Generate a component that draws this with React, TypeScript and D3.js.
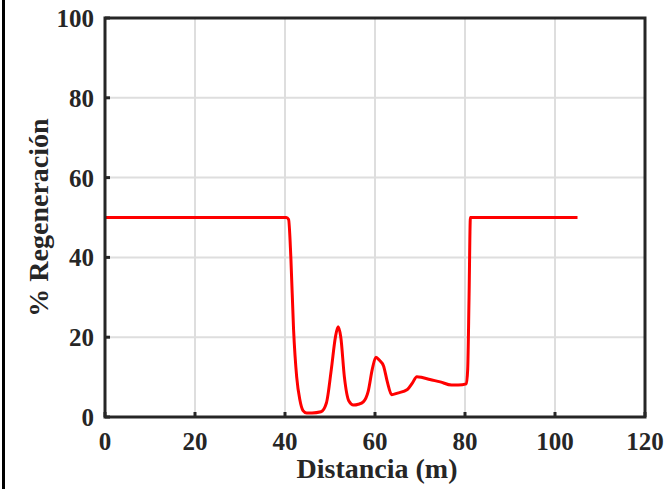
import React from "react";
import * as d3 from "d3";

const distance = [0, 10, 20, 30, 40.3, 40.8, 41.3, 41.9, 42.6, 43.3, 44.0, 44.8, 46.0, 48.0, 49.2, 50.3, 51.2, 51.8, 52.4, 53.2, 54.2, 55.2, 56.3, 57.4, 58.5, 59.4, 60.2, 61.0, 61.9, 62.7, 63.7, 65.0, 67.2, 68.3, 69.3, 70.5, 72.2, 74.5, 77.0, 78.5, 80.3, 80.6, 80.9, 81.2, 85, 95, 105];
const regeneration = [50, 50, 50, 50, 50, 49.5, 40, 22, 10, 4.3, 1.6, 1.0, 1.0, 1.3, 3.5, 12, 20, 22.6, 20, 10, 4.0, 3.0, 3.2, 3.8, 6.5, 12, 15.0, 14.2, 12.8, 9, 5.6, 6.0, 6.9, 8.5, 10.1, 9.9, 9.4, 8.8, 8.0, 8.0, 8.3, 12, 30, 50, 50, 50, 50];
const xTicks = [0, 20, 40, 60, 80, 100, 120];
const yTicks = [0, 20, 40, 60, 80, 100];

export default function App() {
  const W = 669, H = 489;
  const left = 105, right = 645, top = 18, bottom = 417;
  const x = d3.scaleLinear().domain([0, 120]).range([left, right]);
  const y = d3.scaleLinear().domain([0, 100]).range([bottom, top]);
  const pts = distance.map((d, i) => [d, regeneration[i]] as [number, number]);
  const line = d3.line<[number, number]>().x(d => x(d[0])).y(d => y(d[1])).curve(d3.curveMonotoneX);
  const font = "'Liberation Serif', 'Times New Roman', serif";
  return (
    <svg width={W} height={H} style={{ position: "absolute", left: 0, top: 0 }}>
      <rect x={0} y={0} width={W} height={H} fill="#fff" />
      <rect x={2} y={0} width={3} height={H} fill="#000" />
      {xTicks.slice(1, -1).map(t => (
        <line key={"gx" + t} x1={x(t)} x2={x(t)} y1={top} y2={bottom} stroke="#dedede" strokeWidth={2} />
      ))}
      {yTicks.slice(1, -1).map(t => (
        <line key={"gy" + t} x1={left} x2={right} y1={y(t)} y2={y(t)} stroke="#dedede" strokeWidth={2} />
      ))}
      {xTicks.map(t => (
        <line key={"tx" + t} x1={x(t)} x2={x(t)} y1={bottom} y2={bottom - 5} stroke="#262626" strokeWidth={3} />
      ))}
      {yTicks.map(t => (
        <line key={"ty" + t} x1={left} x2={left + 5} y1={y(t)} y2={y(t)} stroke="#262626" strokeWidth={3} />
      ))}
      <path d={line(pts) || ""} fill="none" stroke="#ff0000" strokeWidth={3} strokeLinejoin="round" />
      <rect x={left} y={top} width={right - left} height={bottom - top} fill="none" stroke="#262626" strokeWidth={3} />
      {xTicks.map(t => (
        <text key={"lx" + t} x={x(t)} y={450} textAnchor="middle" fontFamily={font} fontWeight="bold" fontSize={25} fill="#262626">{t}</text>
      ))}
      {yTicks.map(t => (
        <text key={"ly" + t} x={left - 11} y={y(t) + 9} textAnchor="end" fontFamily={font} fontWeight="bold" fontSize={25} fill="#262626">{t}</text>
      ))}
      <text x={(left + right) / 2 + 2} y={478} textAnchor="middle" fontFamily={font} fontWeight="bold" fontSize={28} fill="#262626">Distancia (m)</text>
      <text transform={`translate(48, ${(top + bottom) / 2}) rotate(-90)`} textAnchor="middle" fontFamily={font} fontWeight="bold" fontSize={28} fill="#262626">% Regeneración</text>
    </svg>
  );
}
